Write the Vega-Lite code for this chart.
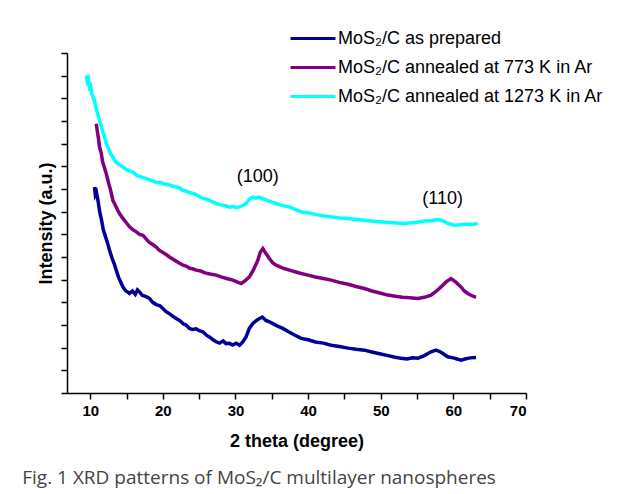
{
  "$schema": "https://vega.github.io/schema/vega-lite/v6.json",
  "width": 459,
  "height": 340,
  "padding": {"left": 22, "top": 25, "right": 5, "bottom": 5},
  "title": {
    "text": "Fig. 1 XRD patterns of MoS₂/C multilayer nanospheres",
    "orient": "bottom",
    "anchor": "start",
    "frame": "bounds",
    "font": "Open Sans",
    "fontSize": 19,
    "fontWeight": "normal",
    "color": "#444444",
    "offset": 19,
    "dx": -15
  },
  "config": {
    "view": {"stroke": null},
    "font": "Liberation Sans",
    "axis": {
      "domainColor": "#000000",
      "domainWidth": 1.5,
      "tickColor": "#000000",
      "tickWidth": 1.5,
      "tickSize": 6,
      "grid": false,
      "labelFont": "Liberation Sans",
      "labelFontWeight": "bold",
      "labelFontSize": 15,
      "labelColor": "#000000",
      "titleFont": "Liberation Sans",
      "titleFontWeight": "bold",
      "titleFontSize": 18,
      "titleColor": "#000000"
    },
    "legend": {
      "orient": "none",
      "legendX": 222,
      "legendY": -28,
      "symbolType": "stroke",
      "symbolSize": 2025,
      "symbolStrokeWidth": 3,
      "labelFont": "Liberation Sans",
      "labelFontSize": 18,
      "labelColor": "#000000",
      "labelOffset": 1,
      "clipHeight": 27,
      "rowPadding": 2,
      "labelLimit": 400
    }
  },
  "encoding": {
    "x": {
      "field": "x",
      "type": "quantitative",
      "scale": {"domain": [6.8, 70], "nice": false, "zero": false},
      "axis": {
        "title": "2 theta (degree)",
        "values": [10, 15, 20, 25, 30, 35, 40, 45, 50, 55, 60, 65, 70],
        "labelExpr": "datum.value % 10 === 0 ? datum.label : ''",
        "labelPadding": 4,
        "titlePadding": 14
      }
    },
    "y": {
      "field": "y",
      "type": "quantitative",
      "scale": {"domain": [0, 15], "nice": false, "zero": false},
      "axis": {
        "title": "Intensity (a.u.)",
        "values": [0, 1, 2, 3, 4, 5, 6, 7, 8, 9, 10, 11, 12, 13, 14, 15],
        "labels": false,
        "titlePadding": 5
      }
    }
  },
  "layer": [
    {
      "data": {
        "values": [
          {"s": "MoS₂/C annealed at 1273 K in Ar", "x": 9.45, "y": 14.01}, {"s": "MoS₂/C annealed at 1273 K in Ar", "x": 9.6, "y": 13.75}, {"s": "MoS₂/C annealed at 1273 K in Ar", "x": 9.75, "y": 13.85}, {"s": "MoS₂/C annealed at 1273 K in Ar", "x": 9.9, "y": 13.49}, {"s": "MoS₂/C annealed at 1273 K in Ar", "x": 10.05, "y": 13.55}, {"s": "MoS₂/C annealed at 1273 K in Ar", "x": 10.2, "y": 13.2}, {"s": "MoS₂/C annealed at 1273 K in Ar", "x": 10.4, "y": 13.05}, {"s": "MoS₂/C annealed at 1273 K in Ar", "x": 10.59, "y": 12.91}, {"s": "MoS₂/C annealed at 1273 K in Ar", "x": 10.8, "y": 12.55}, {"s": "MoS₂/C annealed at 1273 K in Ar", "x": 11.0, "y": 12.35}, {"s": "MoS₂/C annealed at 1273 K in Ar", "x": 11.28, "y": 12.03}, {"s": "MoS₂/C annealed at 1273 K in Ar", "x": 11.5, "y": 11.8}, {"s": "MoS₂/C annealed at 1273 K in Ar", "x": 11.7, "y": 11.55}, {"s": "MoS₂/C annealed at 1273 K in Ar", "x": 11.95, "y": 11.35}, {"s": "MoS₂/C annealed at 1273 K in Ar", "x": 12.2, "y": 11.01}, {"s": "MoS₂/C annealed at 1273 K in Ar", "x": 12.5, "y": 10.8}, {"s": "MoS₂/C annealed at 1273 K in Ar", "x": 12.8, "y": 10.55}, {"s": "MoS₂/C annealed at 1273 K in Ar", "x": 13.12, "y": 10.41}, {"s": "MoS₂/C annealed at 1273 K in Ar", "x": 13.5, "y": 10.2}, {"s": "MoS₂/C annealed at 1273 K in Ar", "x": 13.9, "y": 10.1}, {"s": "MoS₂/C annealed at 1273 K in Ar", "x": 14.5, "y": 9.97}, {"s": "MoS₂/C annealed at 1273 K in Ar", "x": 15.0, "y": 9.85}, {"s": "MoS₂/C annealed at 1273 K in Ar", "x": 15.4, "y": 9.8}, {"s": "MoS₂/C annealed at 1273 K in Ar", "x": 15.88, "y": 9.75}, {"s": "MoS₂/C annealed at 1273 K in Ar", "x": 16.4, "y": 9.6}, {"s": "MoS₂/C annealed at 1273 K in Ar", "x": 16.9, "y": 9.55}, {"s": "MoS₂/C annealed at 1273 K in Ar", "x": 17.3, "y": 9.5}, {"s": "MoS₂/C annealed at 1273 K in Ar", "x": 17.71, "y": 9.46}, {"s": "MoS₂/C annealed at 1273 K in Ar", "x": 18.2, "y": 9.4}, {"s": "MoS₂/C annealed at 1273 K in Ar", "x": 18.7, "y": 9.35}, {"s": "MoS₂/C annealed at 1273 K in Ar", "x": 19.2, "y": 9.28}, {"s": "MoS₂/C annealed at 1273 K in Ar", "x": 19.6, "y": 9.3}, {"s": "MoS₂/C annealed at 1273 K in Ar", "x": 20.0, "y": 9.24}, {"s": "MoS₂/C annealed at 1273 K in Ar", "x": 20.5, "y": 9.2}, {"s": "MoS₂/C annealed at 1273 K in Ar", "x": 21.0, "y": 9.17}, {"s": "MoS₂/C annealed at 1273 K in Ar", "x": 21.4, "y": 9.12}, {"s": "MoS₂/C annealed at 1273 K in Ar", "x": 21.83, "y": 9.09}, {"s": "MoS₂/C annealed at 1273 K in Ar", "x": 22.3, "y": 9.05}, {"s": "MoS₂/C annealed at 1273 K in Ar", "x": 22.7, "y": 8.95}, {"s": "MoS₂/C annealed at 1273 K in Ar", "x": 23.2, "y": 8.9}, {"s": "MoS₂/C annealed at 1273 K in Ar", "x": 23.6, "y": 8.85}, {"s": "MoS₂/C annealed at 1273 K in Ar", "x": 24.13, "y": 8.8}, {"s": "MoS₂/C annealed at 1273 K in Ar", "x": 24.6, "y": 8.75}, {"s": "MoS₂/C annealed at 1273 K in Ar", "x": 25.0, "y": 8.66}, {"s": "MoS₂/C annealed at 1273 K in Ar", "x": 25.5, "y": 8.6}, {"s": "MoS₂/C annealed at 1273 K in Ar", "x": 26.0, "y": 8.55}, {"s": "MoS₂/C annealed at 1273 K in Ar", "x": 26.42, "y": 8.5}, {"s": "MoS₂/C annealed at 1273 K in Ar", "x": 26.9, "y": 8.42}, {"s": "MoS₂/C annealed at 1273 K in Ar", "x": 27.4, "y": 8.35}, {"s": "MoS₂/C annealed at 1273 K in Ar", "x": 27.8, "y": 8.32}, {"s": "MoS₂/C annealed at 1273 K in Ar", "x": 28.26, "y": 8.28}, {"s": "MoS₂/C annealed at 1273 K in Ar", "x": 28.7, "y": 8.25}, {"s": "MoS₂/C annealed at 1273 K in Ar", "x": 29.2, "y": 8.2}, {"s": "MoS₂/C annealed at 1273 K in Ar", "x": 29.7, "y": 8.23}, {"s": "MoS₂/C annealed at 1273 K in Ar", "x": 30.1, "y": 8.18}, {"s": "MoS₂/C annealed at 1273 K in Ar", "x": 30.55, "y": 8.21}, {"s": "MoS₂/C annealed at 1273 K in Ar", "x": 31.0, "y": 8.27}, {"s": "MoS₂/C annealed at 1273 K in Ar", "x": 31.47, "y": 8.36}, {"s": "MoS₂/C annealed at 1273 K in Ar", "x": 31.9, "y": 8.55}, {"s": "MoS₂/C annealed at 1273 K in Ar", "x": 32.39, "y": 8.65}, {"s": "MoS₂/C annealed at 1273 K in Ar", "x": 32.8, "y": 8.6}, {"s": "MoS₂/C annealed at 1273 K in Ar", "x": 33.2, "y": 8.63}, {"s": "MoS₂/C annealed at 1273 K in Ar", "x": 33.77, "y": 8.58}, {"s": "MoS₂/C annealed at 1273 K in Ar", "x": 34.3, "y": 8.5}, {"s": "MoS₂/C annealed at 1273 K in Ar", "x": 35.0, "y": 8.42}, {"s": "MoS₂/C annealed at 1273 K in Ar", "x": 35.6, "y": 8.36}, {"s": "MoS₂/C annealed at 1273 K in Ar", "x": 36.1, "y": 8.3}, {"s": "MoS₂/C annealed at 1273 K in Ar", "x": 36.8, "y": 8.25}, {"s": "MoS₂/C annealed at 1273 K in Ar", "x": 37.43, "y": 8.21}, {"s": "MoS₂/C annealed at 1273 K in Ar", "x": 38.2, "y": 8.1}, {"s": "MoS₂/C annealed at 1273 K in Ar", "x": 39.04, "y": 7.99}, {"s": "MoS₂/C annealed at 1273 K in Ar", "x": 40.0, "y": 7.95}, {"s": "MoS₂/C annealed at 1273 K in Ar", "x": 41.0, "y": 7.88}, {"s": "MoS₂/C annealed at 1273 K in Ar", "x": 42.0, "y": 7.82}, {"s": "MoS₂/C annealed at 1273 K in Ar", "x": 43.17, "y": 7.77}, {"s": "MoS₂/C annealed at 1273 K in Ar", "x": 44.3, "y": 7.72}, {"s": "MoS₂/C annealed at 1273 K in Ar", "x": 45.5, "y": 7.7}, {"s": "MoS₂/C annealed at 1273 K in Ar", "x": 46.6, "y": 7.65}, {"s": "MoS₂/C annealed at 1273 K in Ar", "x": 47.75, "y": 7.62}, {"s": "MoS₂/C annealed at 1273 K in Ar", "x": 49.0, "y": 7.58}, {"s": "MoS₂/C annealed at 1273 K in Ar", "x": 50.0, "y": 7.55}, {"s": "MoS₂/C annealed at 1273 K in Ar", "x": 51.2, "y": 7.52}, {"s": "MoS₂/C annealed at 1273 K in Ar", "x": 52.2, "y": 7.5}, {"s": "MoS₂/C annealed at 1273 K in Ar", "x": 53.25, "y": 7.48}, {"s": "MoS₂/C annealed at 1273 K in Ar", "x": 54.0, "y": 7.5}, {"s": "MoS₂/C annealed at 1273 K in Ar", "x": 55.0, "y": 7.53}, {"s": "MoS₂/C annealed at 1273 K in Ar", "x": 56.0, "y": 7.59}, {"s": "MoS₂/C annealed at 1273 K in Ar", "x": 57.0, "y": 7.6}, {"s": "MoS₂/C annealed at 1273 K in Ar", "x": 57.85, "y": 7.65}, {"s": "MoS₂/C annealed at 1273 K in Ar", "x": 58.5, "y": 7.6}, {"s": "MoS₂/C annealed at 1273 K in Ar", "x": 59.3, "y": 7.47}, {"s": "MoS₂/C annealed at 1273 K in Ar", "x": 60.13, "y": 7.4}, {"s": "MoS₂/C annealed at 1273 K in Ar", "x": 61.0, "y": 7.42}, {"s": "MoS₂/C annealed at 1273 K in Ar", "x": 61.8, "y": 7.45}, {"s": "MoS₂/C annealed at 1273 K in Ar", "x": 62.6, "y": 7.43}, {"s": "MoS₂/C annealed at 1273 K in Ar", "x": 63.35, "y": 7.48},

          {"s": "MoS₂/C annealed at 773 K in Ar", "x": 10.83, "y": 11.88}, {"s": "MoS₂/C annealed at 773 K in Ar", "x": 10.95, "y": 11.6}, {"s": "MoS₂/C annealed at 773 K in Ar", "x": 11.1, "y": 11.3}, {"s": "MoS₂/C annealed at 773 K in Ar", "x": 11.28, "y": 10.85}, {"s": "MoS₂/C annealed at 773 K in Ar", "x": 11.5, "y": 10.6}, {"s": "MoS₂/C annealed at 773 K in Ar", "x": 11.7, "y": 10.2}, {"s": "MoS₂/C annealed at 773 K in Ar", "x": 11.95, "y": 9.95}, {"s": "MoS₂/C annealed at 773 K in Ar", "x": 12.2, "y": 9.68}, {"s": "MoS₂/C annealed at 773 K in Ar", "x": 12.5, "y": 9.3}, {"s": "MoS₂/C annealed at 773 K in Ar", "x": 12.8, "y": 8.95}, {"s": "MoS₂/C annealed at 773 K in Ar", "x": 13.12, "y": 8.5}, {"s": "MoS₂/C annealed at 773 K in Ar", "x": 13.5, "y": 8.25}, {"s": "MoS₂/C annealed at 773 K in Ar", "x": 13.8, "y": 8.05}, {"s": "MoS₂/C annealed at 773 K in Ar", "x": 14.03, "y": 7.92}, {"s": "MoS₂/C annealed at 773 K in Ar", "x": 14.5, "y": 7.7}, {"s": "MoS₂/C annealed at 773 K in Ar", "x": 15.0, "y": 7.5}, {"s": "MoS₂/C annealed at 773 K in Ar", "x": 15.41, "y": 7.33}, {"s": "MoS₂/C annealed at 773 K in Ar", "x": 15.9, "y": 7.2}, {"s": "MoS₂/C annealed at 773 K in Ar", "x": 16.4, "y": 7.1}, {"s": "MoS₂/C annealed at 773 K in Ar", "x": 16.8, "y": 7.0}, {"s": "MoS₂/C annealed at 773 K in Ar", "x": 17.25, "y": 6.96}, {"s": "MoS₂/C annealed at 773 K in Ar", "x": 17.7, "y": 6.8}, {"s": "MoS₂/C annealed at 773 K in Ar", "x": 18.1, "y": 6.65}, {"s": "MoS₂/C annealed at 773 K in Ar", "x": 18.6, "y": 6.55}, {"s": "MoS₂/C annealed at 773 K in Ar", "x": 19.08, "y": 6.44}, {"s": "MoS₂/C annealed at 773 K in Ar", "x": 19.5, "y": 6.3}, {"s": "MoS₂/C annealed at 773 K in Ar", "x": 20.0, "y": 6.2}, {"s": "MoS₂/C annealed at 773 K in Ar", "x": 20.5, "y": 6.1}, {"s": "MoS₂/C annealed at 773 K in Ar", "x": 20.91, "y": 6.0}, {"s": "MoS₂/C annealed at 773 K in Ar", "x": 21.4, "y": 5.9}, {"s": "MoS₂/C annealed at 773 K in Ar", "x": 21.9, "y": 5.8}, {"s": "MoS₂/C annealed at 773 K in Ar", "x": 22.3, "y": 5.72}, {"s": "MoS₂/C annealed at 773 K in Ar", "x": 22.76, "y": 5.64}, {"s": "MoS₂/C annealed at 773 K in Ar", "x": 23.2, "y": 5.6}, {"s": "MoS₂/C annealed at 773 K in Ar", "x": 23.7, "y": 5.5}, {"s": "MoS₂/C annealed at 773 K in Ar", "x": 24.1, "y": 5.48}, {"s": "MoS₂/C annealed at 773 K in Ar", "x": 24.59, "y": 5.42}, {"s": "MoS₂/C annealed at 773 K in Ar", "x": 25.2, "y": 5.38}, {"s": "MoS₂/C annealed at 773 K in Ar", "x": 25.8, "y": 5.3}, {"s": "MoS₂/C annealed at 773 K in Ar", "x": 26.5, "y": 5.25}, {"s": "MoS₂/C annealed at 773 K in Ar", "x": 27.34, "y": 5.2}, {"s": "MoS₂/C annealed at 773 K in Ar", "x": 28.0, "y": 5.12}, {"s": "MoS₂/C annealed at 773 K in Ar", "x": 28.8, "y": 5.05}, {"s": "MoS₂/C annealed at 773 K in Ar", "x": 29.64, "y": 4.98}, {"s": "MoS₂/C annealed at 773 K in Ar", "x": 30.2, "y": 4.9}, {"s": "MoS₂/C annealed at 773 K in Ar", "x": 30.78, "y": 4.83}, {"s": "MoS₂/C annealed at 773 K in Ar", "x": 31.3, "y": 4.95}, {"s": "MoS₂/C annealed at 773 K in Ar", "x": 31.92, "y": 5.12}, {"s": "MoS₂/C annealed at 773 K in Ar", "x": 32.5, "y": 5.45}, {"s": "MoS₂/C annealed at 773 K in Ar", "x": 33.08, "y": 5.86}, {"s": "MoS₂/C annealed at 773 K in Ar", "x": 33.4, "y": 6.2}, {"s": "MoS₂/C annealed at 773 K in Ar", "x": 33.77, "y": 6.37}, {"s": "MoS₂/C annealed at 773 K in Ar", "x": 34.2, "y": 6.15}, {"s": "MoS₂/C annealed at 773 K in Ar", "x": 34.67, "y": 5.93}, {"s": "MoS₂/C annealed at 773 K in Ar", "x": 35.1, "y": 5.75}, {"s": "MoS₂/C annealed at 773 K in Ar", "x": 35.6, "y": 5.64}, {"s": "MoS₂/C annealed at 773 K in Ar", "x": 36.2, "y": 5.55}, {"s": "MoS₂/C annealed at 773 K in Ar", "x": 36.8, "y": 5.48}, {"s": "MoS₂/C annealed at 773 K in Ar", "x": 37.43, "y": 5.42}, {"s": "MoS₂/C annealed at 773 K in Ar", "x": 38.2, "y": 5.35}, {"s": "MoS₂/C annealed at 773 K in Ar", "x": 39.04, "y": 5.27}, {"s": "MoS₂/C annealed at 773 K in Ar", "x": 40.0, "y": 5.2}, {"s": "MoS₂/C annealed at 773 K in Ar", "x": 41.0, "y": 5.12}, {"s": "MoS₂/C annealed at 773 K in Ar", "x": 42.1, "y": 5.05}, {"s": "MoS₂/C annealed at 773 K in Ar", "x": 43.17, "y": 4.98}, {"s": "MoS₂/C annealed at 773 K in Ar", "x": 44.3, "y": 4.88}, {"s": "MoS₂/C annealed at 773 K in Ar", "x": 45.5, "y": 4.8}, {"s": "MoS₂/C annealed at 773 K in Ar", "x": 46.6, "y": 4.7}, {"s": "MoS₂/C annealed at 773 K in Ar", "x": 47.75, "y": 4.61}, {"s": "MoS₂/C annealed at 773 K in Ar", "x": 48.8, "y": 4.5}, {"s": "MoS₂/C annealed at 773 K in Ar", "x": 50.0, "y": 4.4}, {"s": "MoS₂/C annealed at 773 K in Ar", "x": 50.97, "y": 4.32}, {"s": "MoS₂/C annealed at 773 K in Ar", "x": 52.0, "y": 4.27}, {"s": "MoS₂/C annealed at 773 K in Ar", "x": 53.0, "y": 4.22}, {"s": "MoS₂/C annealed at 773 K in Ar", "x": 54.0, "y": 4.2}, {"s": "MoS₂/C annealed at 773 K in Ar", "x": 55.1, "y": 4.17}, {"s": "MoS₂/C annealed at 773 K in Ar", "x": 56.0, "y": 4.22}, {"s": "MoS₂/C annealed at 773 K in Ar", "x": 56.93, "y": 4.32}, {"s": "MoS₂/C annealed at 773 K in Ar", "x": 57.6, "y": 4.48}, {"s": "MoS₂/C annealed at 773 K in Ar", "x": 58.3, "y": 4.68}, {"s": "MoS₂/C annealed at 773 K in Ar", "x": 59.0, "y": 4.9}, {"s": "MoS₂/C annealed at 773 K in Ar", "x": 59.68, "y": 5.05}, {"s": "MoS₂/C annealed at 773 K in Ar", "x": 60.3, "y": 4.9}, {"s": "MoS₂/C annealed at 773 K in Ar", "x": 61.05, "y": 4.68}, {"s": "MoS₂/C annealed at 773 K in Ar", "x": 61.5, "y": 4.5}, {"s": "MoS₂/C annealed at 773 K in Ar", "x": 61.98, "y": 4.39}, {"s": "MoS₂/C annealed at 773 K in Ar", "x": 62.5, "y": 4.3}, {"s": "MoS₂/C annealed at 773 K in Ar", "x": 63.12, "y": 4.22},

          {"s": "MoS₂/C as prepared", "x": 10.59, "y": 9.09}, {"s": "MoS₂/C as prepared", "x": 10.7, "y": 8.75}, {"s": "MoS₂/C as prepared", "x": 10.85, "y": 8.85}, {"s": "MoS₂/C as prepared", "x": 11.06, "y": 8.5}, {"s": "MoS₂/C as prepared", "x": 11.3, "y": 8.0}, {"s": "MoS₂/C as prepared", "x": 11.51, "y": 7.71}, {"s": "MoS₂/C as prepared", "x": 11.8, "y": 7.2}, {"s": "MoS₂/C as prepared", "x": 12.1, "y": 6.9}, {"s": "MoS₂/C as prepared", "x": 12.4, "y": 6.6}, {"s": "MoS₂/C as prepared", "x": 12.66, "y": 6.3}, {"s": "MoS₂/C as prepared", "x": 13.0, "y": 5.95}, {"s": "MoS₂/C as prepared", "x": 13.3, "y": 5.7}, {"s": "MoS₂/C as prepared", "x": 13.58, "y": 5.42}, {"s": "MoS₂/C as prepared", "x": 13.9, "y": 5.1}, {"s": "MoS₂/C as prepared", "x": 14.2, "y": 4.9}, {"s": "MoS₂/C as prepared", "x": 14.5, "y": 4.68}, {"s": "MoS₂/C as prepared", "x": 14.9, "y": 4.5}, {"s": "MoS₂/C as prepared", "x": 15.2, "y": 4.45}, {"s": "MoS₂/C as prepared", "x": 15.41, "y": 4.39}, {"s": "MoS₂/C as prepared", "x": 15.8, "y": 4.5}, {"s": "MoS₂/C as prepared", "x": 16.2, "y": 4.35}, {"s": "MoS₂/C as prepared", "x": 16.5, "y": 4.55}, {"s": "MoS₂/C as prepared", "x": 16.78, "y": 4.46}, {"s": "MoS₂/C as prepared", "x": 17.2, "y": 4.3}, {"s": "MoS₂/C as prepared", "x": 17.7, "y": 4.25}, {"s": "MoS₂/C as prepared", "x": 18.16, "y": 4.17}, {"s": "MoS₂/C as prepared", "x": 18.6, "y": 4.0}, {"s": "MoS₂/C as prepared", "x": 19.1, "y": 3.9}, {"s": "MoS₂/C as prepared", "x": 19.6, "y": 3.85}, {"s": "MoS₂/C as prepared", "x": 20.0, "y": 3.73}, {"s": "MoS₂/C as prepared", "x": 20.4, "y": 3.6}, {"s": "MoS₂/C as prepared", "x": 20.9, "y": 3.5}, {"s": "MoS₂/C as prepared", "x": 21.3, "y": 3.4}, {"s": "MoS₂/C as prepared", "x": 21.83, "y": 3.29}, {"s": "MoS₂/C as prepared", "x": 22.3, "y": 3.2}, {"s": "MoS₂/C as prepared", "x": 22.8, "y": 3.05}, {"s": "MoS₂/C as prepared", "x": 23.2, "y": 3.0}, {"s": "MoS₂/C as prepared", "x": 23.66, "y": 2.85}, {"s": "MoS₂/C as prepared", "x": 24.1, "y": 2.8}, {"s": "MoS₂/C as prepared", "x": 24.6, "y": 2.83}, {"s": "MoS₂/C as prepared", "x": 25.0, "y": 2.75}, {"s": "MoS₂/C as prepared", "x": 25.51, "y": 2.7}, {"s": "MoS₂/C as prepared", "x": 26.0, "y": 2.55}, {"s": "MoS₂/C as prepared", "x": 26.5, "y": 2.45}, {"s": "MoS₂/C as prepared", "x": 26.9, "y": 2.35}, {"s": "MoS₂/C as prepared", "x": 27.34, "y": 2.26}, {"s": "MoS₂/C as prepared", "x": 27.8, "y": 2.2}, {"s": "MoS₂/C as prepared", "x": 28.3, "y": 2.3}, {"s": "MoS₂/C as prepared", "x": 28.7, "y": 2.18}, {"s": "MoS₂/C as prepared", "x": 29.17, "y": 2.19}, {"s": "MoS₂/C as prepared", "x": 29.6, "y": 2.12}, {"s": "MoS₂/C as prepared", "x": 30.1, "y": 2.2}, {"s": "MoS₂/C as prepared", "x": 30.55, "y": 2.11}, {"s": "MoS₂/C as prepared", "x": 31.0, "y": 2.25}, {"s": "MoS₂/C as prepared", "x": 31.47, "y": 2.48}, {"s": "MoS₂/C as prepared", "x": 31.9, "y": 2.85}, {"s": "MoS₂/C as prepared", "x": 32.39, "y": 3.07}, {"s": "MoS₂/C as prepared", "x": 32.9, "y": 3.2}, {"s": "MoS₂/C as prepared", "x": 33.3, "y": 3.29}, {"s": "MoS₂/C as prepared", "x": 33.7, "y": 3.35}, {"s": "MoS₂/C as prepared", "x": 34.2, "y": 3.2}, {"s": "MoS₂/C as prepared", "x": 34.67, "y": 3.14}, {"s": "MoS₂/C as prepared", "x": 35.2, "y": 3.05}, {"s": "MoS₂/C as prepared", "x": 35.8, "y": 2.95}, {"s": "MoS₂/C as prepared", "x": 36.52, "y": 2.85}, {"s": "MoS₂/C as prepared", "x": 37.3, "y": 2.7}, {"s": "MoS₂/C as prepared", "x": 38.2, "y": 2.55}, {"s": "MoS₂/C as prepared", "x": 39.04, "y": 2.41}, {"s": "MoS₂/C as prepared", "x": 40.0, "y": 2.35}, {"s": "MoS₂/C as prepared", "x": 41.0, "y": 2.25}, {"s": "MoS₂/C as prepared", "x": 42.1, "y": 2.2}, {"s": "MoS₂/C as prepared", "x": 43.17, "y": 2.11}, {"s": "MoS₂/C as prepared", "x": 44.3, "y": 2.05}, {"s": "MoS₂/C as prepared", "x": 45.5, "y": 1.98}, {"s": "MoS₂/C as prepared", "x": 46.6, "y": 1.93}, {"s": "MoS₂/C as prepared", "x": 47.75, "y": 1.89}, {"s": "MoS₂/C as prepared", "x": 48.9, "y": 1.8}, {"s": "MoS₂/C as prepared", "x": 50.0, "y": 1.72}, {"s": "MoS₂/C as prepared", "x": 51.0, "y": 1.65}, {"s": "MoS₂/C as prepared", "x": 52.0, "y": 1.58}, {"s": "MoS₂/C as prepared", "x": 52.8, "y": 1.53}, {"s": "MoS₂/C as prepared", "x": 53.6, "y": 1.5}, {"s": "MoS₂/C as prepared", "x": 54.4, "y": 1.55}, {"s": "MoS₂/C as prepared", "x": 55.1, "y": 1.53}, {"s": "MoS₂/C as prepared", "x": 56.0, "y": 1.65}, {"s": "MoS₂/C as prepared", "x": 56.93, "y": 1.82}, {"s": "MoS₂/C as prepared", "x": 57.62, "y": 1.89}, {"s": "MoS₂/C as prepared", "x": 58.3, "y": 1.8}, {"s": "MoS₂/C as prepared", "x": 59.22, "y": 1.6}, {"s": "MoS₂/C as prepared", "x": 60.0, "y": 1.55}, {"s": "MoS₂/C as prepared", "x": 60.5, "y": 1.5}, {"s": "MoS₂/C as prepared", "x": 61.05, "y": 1.45}, {"s": "MoS₂/C as prepared", "x": 61.6, "y": 1.5}, {"s": "MoS₂/C as prepared", "x": 62.3, "y": 1.55}, {"s": "MoS₂/C as prepared", "x": 63.12, "y": 1.57}
        ]
      },
      "mark": {"type": "line", "strokeWidth": 3.5},
      "encoding": {
        "color": {
          "field": "s",
          "type": "nominal",
          "title": null,
          "scale": {
            "domain": ["MoS₂/C as prepared", "MoS₂/C annealed at 773 K in Ar", "MoS₂/C annealed at 1273 K in Ar"],
            "range": ["#000099", "#800080", "#00FFFF"]
          }
        }
      }
    },
    {
      "data": {
        "values": [
          {"x": 33.08, "y": 9.53, "label": "(100)"},
          {"x": 58.53, "y": 8.58, "label": "(110)"}
        ]
      },
      "mark": {"type": "text", "fontSize": 18, "font": "Liberation Sans", "color": "#000000"},
      "encoding": {"text": {"field": "label"}}
    }
  ]
}
